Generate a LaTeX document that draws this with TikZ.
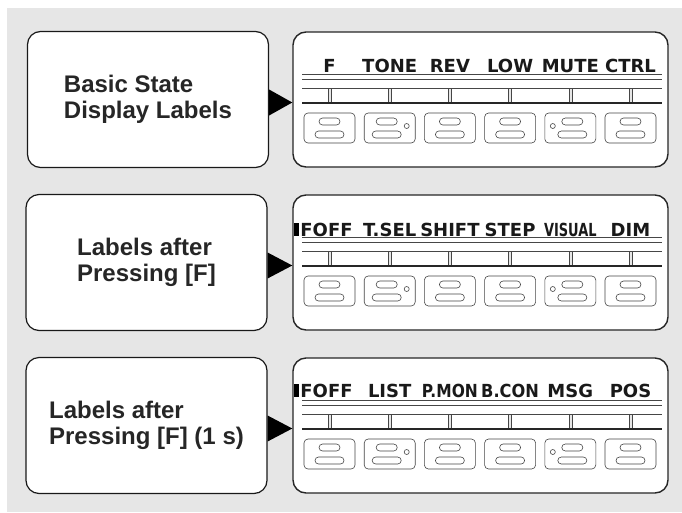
\documentclass[tikz,border=0pt]{standalone}
\usepackage{fontspec}
\setmainfont{Liberation Sans}
\newfontfamily\lcdfont{DejaVu Sans}
\usetikzlibrary{calc}
\definecolor{panelbg}{RGB}{230,230,230}
\definecolor{lcdline}{RGB}{70,70,70}

\begin{document}
\begin{tikzpicture}[x=1pt, y=-1pt, every node/.style={inner sep=0pt},
	labelbox/.style={draw=black!90, line width=1.2pt, fill=white, rounded corners=13pt, minimum width=241pt, minimum height=136pt, align=left, text=black!85, font=\fontsize{24}{26}\selectfont\bfseries},
	lcdbox/.style={draw=black!85, line width=1.4pt, fill=white, rounded corners=13pt, minimum width=375pt, minimum height=135pt},
	lcdtext/.style={anchor=base, text=black!90, font=\lcdfont\bfseries\fontsize{18}{18}\selectfont},
	keybox/.style={draw=lcdline, line width=0.6pt, rounded corners=4pt},
	pill/.style={draw=lcdline, line width=0.6pt, fill=white, rounded corners=3.5pt},
	tickbar/.style={draw=lcdline, line width=0.5pt, fill=panelbg}]
	\useasboundingbox (0,0) rectangle (682,512);
	\fill[panelbg] (7,8) rectangle (682,512);

	\node[labelbox] (lab1) at (148,99.5) {Basic State\\Display Labels};
	\node[labelbox] (lab2) at (146.5,262.5) {Labels after\\Pressing [F]};
	\node[labelbox] (lab3) at (146.5,425.5) {Labels after\\Pressing [F] (1 s)};

	\node[lcdbox] (lcd1) at (480.5,99.5) {};
	\node[lcdbox] (lcd2) at (480.5,262.5) {};
	\node[lcdbox] (lcd3) at (480.5,425.5) {};

	\foreach \i in {1,2,3} {
		\coordinate (tip\i) at ($(lcd\i.west)+(0,3)$);
		\fill[black] (tip\i) -- ($(lab\i.east |- tip\i)+(0,-13)$) -- ($(lab\i.east |- tip\i)+(0,13)$) -- cycle;
	}

	\foreach \t in {32,195,358} {
		\draw[lcdline, line width=0.6pt] (302,\t+42) -- (662,\t+42) (302,\t+47) -- (662,\t+47);
		\draw[lcdline, line width=0.7pt] (302,\t+56) -- (662,\t+56);
		\foreach \k/\dx in {0/0,1/-3,2/0,3/0,4/2,5/0} {
			\pgfmathsetmacro\c{329.5+60.2*\k}
			\filldraw[tickbar] (\c-1.5,\t+56) rectangle (\c+1.5,\t+71);
			\draw[keybox] (\c-25.5,\t+81) rectangle (\c+25.5,\t+111);
			\draw[pill] (\c+\dx-10.5,\t+86) rectangle (\c+\dx+10.5,\t+93);
			\draw[pill] (\c+\dx-14.5,\t+99) rectangle (\c+\dx+14.5,\t+106);
		}
		\draw[lcdline, line width=0.6pt] (406.7,\t+94) circle (2.5) (552.8,\t+94) circle (2.5);
		\draw[black!85, line width=1.4pt] (302,\t+71) -- (662,\t+71);
	}

	\foreach \k/\txt in {0/F,1/TONE,2/REV,3/LOW,4/MUTE,5/CTRL}
		\node[lcdtext] (lbl1-\k) at ({329.5+60.2*\k},72) {\txt};
	\foreach \k/\txt in {0/FOFF,1/T.SEL,2/SHIFT,3/STEP,4/{\scalebox{0.72}[1]{VISUAL}},5/DIM}
		\node[lcdtext] (lbl2-\k) at ({329.5+60.2*\k+(\k==0)*(-3)},236) {\txt};
	\foreach \k/\txt in {0/FOFF,1/LIST,2/{\scalebox{0.86}[1]{P.MON}},3/{\scalebox{0.9}[1]{B.CON}},4/MSG,5/POS}
		\node[lcdtext] (lbl3-\k) at ({329.5+60.2*\k+(\k==0)*(-3)},397) {\txt};
	\fill ([xshift=-1pt]lbl2-0.base west) rectangle ++(-5,-13);
	\fill ([xshift=-1pt]lbl3-0.base west) rectangle ++(-5,-13);
\end{tikzpicture}
\end{document}
